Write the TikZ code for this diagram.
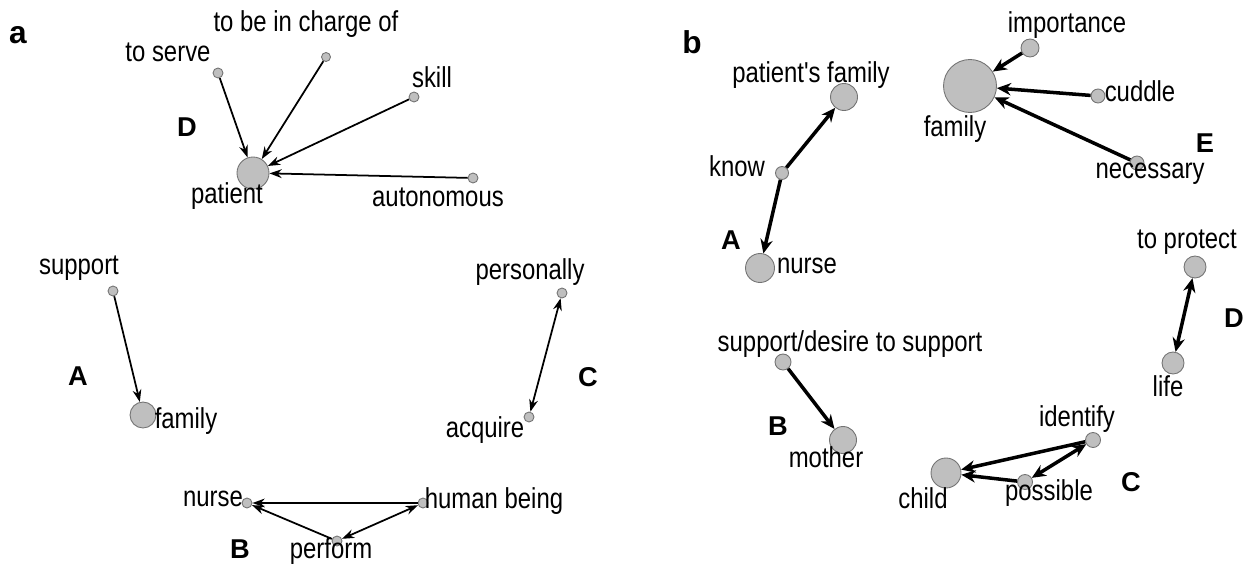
\documentclass[tikz,border=0pt]{standalone}
\usepackage{fontspec}
\setmainfont{Liberation Sans}
\newfontfamily\narrowfont[FakeStretch=0.83]{Liberation Sans}
\usetikzlibrary{arrows.meta}

\begin{document}
\begin{tikzpicture}[x=0.02cm, y=-0.02cm,
      word/.style={font=\narrowfont\fontsize{16.4}{18}\selectfont, inner sep=0pt},
      grp/.style={font=\fontsize{15.5}{18}\selectfont\bfseries, inner sep=0pt},
      panel/.style={font=\fontsize{18}{20}\selectfont\bfseries, inner sep=0pt},
      dot/.style={circle, draw=black!55, line width=0.5pt, fill=black!25, inner sep=0pt, minimum size=#1},
      dot/.default=0.2cm]
      \useasboundingbox (0,0) rectangle (1246,564);

      % panel a
      \node[panel] (pa) at (18,35) {a};
      \begin{scope}[line width=1pt, >={Stealth[length=7pt,width=5pt]}]
      % D
      \node[dot=0.64cm] (patient) at (253,173) {};
      \node[dot] (serve) at (218,73) {};
      \node[dot=0.18cm] (charge) at (326,57) {};
      \node[dot] (skill) at (414,97) {};
      \node[dot] (auton) at (473,178) {};
      \node[word] (patient-t) at (227,196) {patient};
      \node[word] (serve-t) at (168,52) {to serve};
      \node[word] (charge-t) at (306,24) {to be in charge of};
      \node[word] (skill-t) at (432,77) {skill};
      \node[word] (auton-t) at (438,197) {autonomous};
      \node[grp] (gD) at (187,127) {D};
      \draw[->] (serve) -- (patient);
      \draw[->] (charge) -- (patient);
      \draw[->] (skill) -- (patient);
      \draw[->] (auton) -- (patient);
      % A
      \node[dot] (support) at (113,291) {};
      \node[dot=0.52cm] (family) at (143,415) {};
      \node[word] (support-t) at (79,268) {support};
      \node[word] (family-t) at (186,421) {family};
      \node[grp] (gA) at (78,376) {A};
      \draw[->] (support) -- (family);
      % C
      \node[dot] (person) at (562,293) {};
      \node[dot] (acquire) at (529,417) {};
      \node[word] (person-t) at (530,272) {personally};
      \node[word] (acquire-t) at (485,430) {acquire};
      \node[grp] (gC) at (588,377) {C};
      \draw[<->] (person) -- (acquire);
      % B
      \node[dot] (nurse) at (247,503) {};
      \node[dot] (human) at (423,503) {};
      \node[dot] (perform) at (337,541) {};
      \node[word] (nurse-t) at (213,499) {nurse};
      \node[word] (human-t) at (494,501) {human being};
      \node[word] (perform-t) at (331,551) {perform};
      \node[grp] (gB) at (240,549) {B};
      \draw[->] (human) -- (nurse);
      \draw[->] (perform) -- (nurse);
      \draw[<->] (perform) -- (human);
      \end{scope}

      % panel b
      \node[panel] (pb) at (692,42) {b};
      \begin{scope}[line width=2pt, >={Stealth[length=8pt,width=7pt]}]
      % A
      \node[dot=0.54cm] (pfam) at (844,97) {};
      \node[dot=0.26cm] (know) at (782,173) {};
      \node[dot=0.58cm] (nurseb) at (760,268) {};
      \node[word] (pfam-t) at (811,75) {patient's family};
      \node[word] (know-t) at (737,166) {know};
      \node[word] (nurseb-t) at (807,266) {nurse};
      \node[grp] (gAb) at (731,240) {A};
      \draw[->] (know) -- (pfam);
      \draw[->] (know) -- (nurseb);
      % E
      \node[dot=1.06cm] (famb) at (970,86) {};
      \node[dot=0.36cm] (import) at (1030,48) {};
      \node[dot=0.28cm] (cuddle) at (1098,96) {};
      \node[dot=0.28cm] (necess) at (1137,163) {};
      \node[word] (famb-t) at (955,129) {family};
      \node[word] (import-t) at (1067,25) {importance};
      \node[word] (cuddle-t) at (1140,91) {cuddle};
      \node[word] (necess-t) at (1150,174) {necessary};
      \node[grp] (gE) at (1205,143) {E};
      \draw[->] (import) -- (famb);
      \draw[->] (cuddle) -- (famb);
      \draw[->] (necess) -- (famb);
      % B
      \node[dot=0.32cm] (suppb) at (783,362) {};
      \node[dot=0.54cm] (mother) at (843,440) {};
      \node[word] (suppb-t) at (850,344) {support/desire to support};
      \node[word] (mother-t) at (826,457) {mother};
      \node[grp] (gBb) at (778,426) {B};
      \draw[->] (suppb) -- (mother);
      % D
      \node[dot=0.44cm] (protect) at (1195,267) {};
      \node[dot=0.44cm] (life) at (1173,363) {};
      \node[word] (protect-t) at (1187,242) {to protect};
      \node[word] (life-t) at (1168,386) {life};
      \node[grp] (gDb) at (1234,318) {D};
      \draw[<->] (protect) -- (life);
      % C
      \node[dot=0.3cm] (ident) at (1093,440) {};
      \node[dot=0.3cm] (poss) at (1025,482) {};
      \node[dot=0.6cm] (child) at (946,473) {};
      \node[word] (ident-t) at (1077,419) {identify};
      \node[word] (poss-t) at (1049,493) {possible};
      \node[word] (child-t) at (923,498) {child};
      \node[grp] (gCb) at (1131,482) {C};
      \draw[->] (ident) -- (child);
      \draw[->] (poss) -- (child);
      \draw[<->] (ident) -- (poss);
      \end{scope}
    \end{tikzpicture}
\end{document}
